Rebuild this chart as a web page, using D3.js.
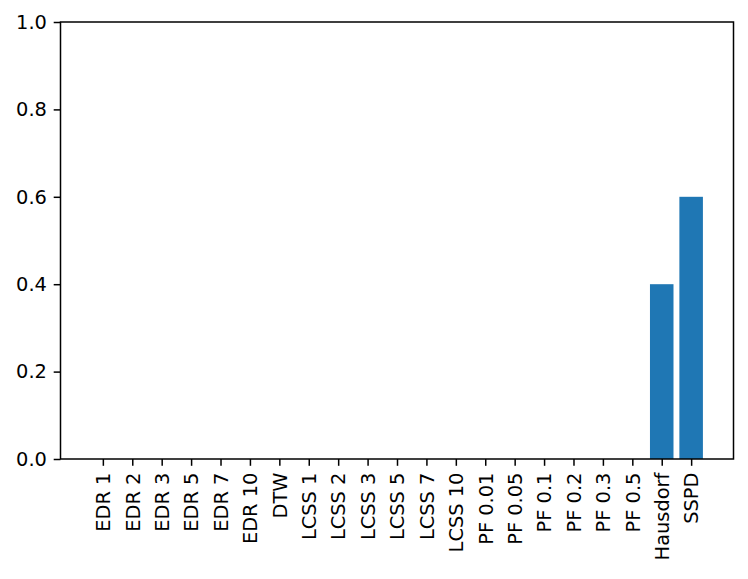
<!DOCTYPE html>
<html><head><meta charset="utf-8">
<script src="https://cdn.jsdelivr.net/npm/d3@7"></script>
<style>body{margin:0;background:#fff}svg{display:block}text{font-family:"DejaVu Sans";}</style>
</head><body>
<script>
const cats = ["EDR 1","EDR 2","EDR 3","EDR 5","EDR 7","EDR 10","DTW","LCSS 1","LCSS 2","LCSS 3","LCSS 5","LCSS 7","LCSS 10","PF 0.01","PF 0.05","PF 0.1","PF 0.2","PF 0.3","PF 0.5","Hausdorf","SSPD"];
const values = [0,0,0,0,0,0,0,0,0,0,0,0,0,0,0,0,0,0,0,0.4,0.6];
const yTicks = [0,0.2,0.4,0.6,0.8,1.0];

const W=748,H=579, L=60.5, R=733.5, T=22, B=459;
const FS=19.4, TL=6.8, PAD=6.8, LW=1.5;
const svg=d3.select("body").append("svg").attr("width",W).attr("height",H);
const n = cats.length;
// matplotlib-like margins: data span from -0.4 to n-1+0.4, plus 5% margin
const span = (n-1)+0.8, m = span*0.05;
const x = d3.scaleLinear().domain([-0.4-m, n-1+0.4+m]).range([L,R]);
const y = d3.scaleLinear().domain([0,1]).range([B,T]);
const bw = x(0.8)-x(0);

svg.append("g").selectAll("rect").data(values).join("rect")
  .attr("x",(d,i)=>x(i-0.4)).attr("width",bw)
  .attr("y",d=>y(d)).attr("height",d=>B-y(d))
  .attr("fill","#1f77b4");

const xa = d3.axisBottom(x).tickValues(d3.range(n)).tickFormat(i=>cats[i]).tickSize(TL).tickPadding(PAD);
const gx = svg.append("g").attr("transform",`translate(0,${B})`).call(xa);
gx.select(".domain").remove();
gx.selectAll("line").attr("stroke","#000").attr("stroke-width",LW);
gx.selectAll("text").attr("font-size",FS).attr("fill","#000")
  .attr("transform","rotate(-90)").attr("text-anchor","end")
  .attr("x",-(TL+PAD)).attr("y",0).attr("dy","0.35em");

const ya = d3.axisLeft(y).tickValues(yTicks).tickFormat(d3.format(".1f")).tickSize(TL).tickPadding(PAD);
const gy = svg.append("g").attr("transform",`translate(${L},0)`).call(ya);
gy.select(".domain").remove();
gy.selectAll("line").attr("stroke","#000").attr("stroke-width",LW);
gy.selectAll("text").attr("font-size",FS).attr("fill","#000");

svg.append("rect").attr("x",L).attr("y",T).attr("width",R-L).attr("height",B-T)
  .attr("fill","none").attr("stroke","#000").attr("stroke-width",LW);
</script>
</body></html>
